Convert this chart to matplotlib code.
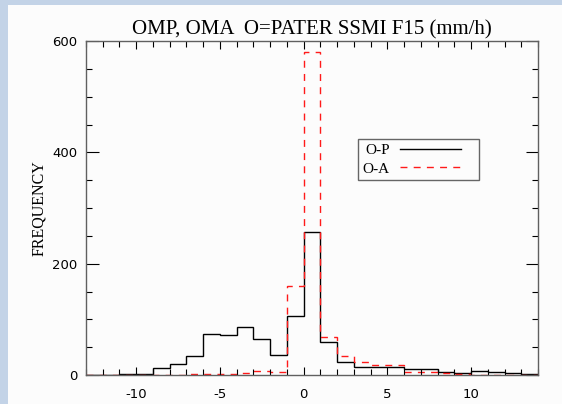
import numpy as np
import matplotlib
matplotlib.use('Agg')
import matplotlib.pyplot as plt
from matplotlib.patches import Rectangle
from matplotlib.ticker import MultipleLocator

plt.rcParams['axes.unicode_minus'] = False

# bin edges (mm/h), width 1
bin_edges = np.arange(-13, 15)

# O-P counts, one per bin from -13 to 13
omp_counts = [0, 0, 1, 1, 12, 20, 34, 74, 71, 86, 64, 36, 106, 256,
              59, 23, 14, 14, 14, 10, 10, 6, 3, 7, 5, 3, 1]
# O-A counts
oma_counts = [0, 0, 0, 0, 0, 0, 1, 1, 2, 4, 7, 5, 159, 581,
              68, 34, 23, 18, 18, 6, 6, 3, 1, 0, 0, 0, 0]

x_ticks = [-10, -5, 0, 5, 10]
y_ticks = [0, 200, 400, 600]

fig = plt.figure(figsize=(5.62, 4.04), dpi=100)
fig.patch.set_facecolor('#c3d3e7')
# white panel of the screenshot
fig.patches.append(Rectangle((8 / 562, 0), 1, (404 - 5) / 404,
                             transform=fig.transFigure, facecolor='#fcfcfc',
                             edgecolor='none', zorder=-10))

ax = fig.add_axes([86 / 562, (404 - 375) / 404, (538 - 86) / 562, (375 - 41) / 404])
ax.set_facecolor('#fcfcfc')

ax.stairs(omp_counts, bin_edges, color='black', lw=1.0, label='O-P', baseline=None)
ax.stairs(oma_counts, bin_edges, color='#ff1a1a', lw=1.0, linestyle=(0, (5, 4.5)),
          label='O-A', baseline=None)

ax.set_xlim(-13, 14)
ax.set_ylim(0, 600)
ax.set_xticks(x_ticks)
ax.set_yticks(y_ticks)
ax.xaxis.set_minor_locator(MultipleLocator(1))
ax.yaxis.set_minor_locator(MultipleLocator(50))
ax.tick_params(axis='both', which='both', direction='in', top=True, right=True,
               labelsize=9.5, width=0.8)
ax.tick_params(axis='x', which='major', length=6, pad=9)
ax.tick_params(axis='x', which='minor', length=4)
ax.tick_params(axis='y', which='major', length=9, pad=6)
ax.tick_params(axis='y', which='minor', length=4)
for lab in ax.get_xticklabels() + ax.get_yticklabels():
    lab.set_family('DejaVu Sans')
for s in ax.spines.values():
    s.set_color('#606060')
    s.set_linewidth(1.0)

ax.set_title('OMP, OMA  O=PATER SSMI F15 (mm/h)', family='Liberation Serif',
             fontsize=15, pad=5)
ax.set_ylabel('FREQUENCY', family='Liberation Serif', fontsize=11.5, labelpad=4)

# legend box spans x 358..479 px, y 139..180 px
leg_box = ((358 - 86) / 452, (375 - 180) / 334, (479 - 358) / 452, (180 - 139) / 334)
leg = ax.legend(loc='upper left', bbox_to_anchor=leg_box, mode='expand',
                markerfirst=False, fancybox=False, frameon=True, handlelength=4.0,
                prop={'family': 'Liberation Serif', 'size': 11},
                borderpad=0.3, labelspacing=0.3, handletextpad=0.65, borderaxespad=0)
leg.get_frame().set_edgecolor('#404040')
leg.get_frame().set_linewidth(1.0)
leg.get_frame().set_facecolor('#fcfcfc')

fig.savefig('out.png', dpi=100)
